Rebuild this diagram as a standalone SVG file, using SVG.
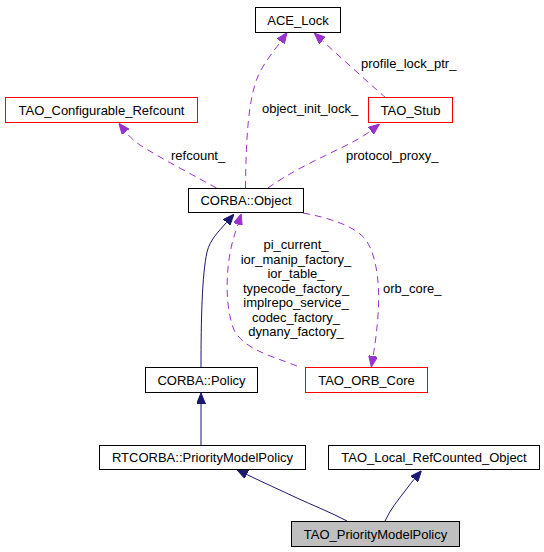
<svg xmlns="http://www.w3.org/2000/svg" width="544" height="552" viewBox="0 0 544 552">
<defs>
<style>
text{font-family:"Liberation Sans",Arial,sans-serif;font-size:13px;fill:#000}
.n{fill:#fff;stroke:#000;stroke-width:1}
.r{fill:#fff;stroke:#ff0000;stroke-width:1}
.g{fill:#bfbfbf;stroke:#000;stroke-width:1}
.c{text-anchor:middle}
.inh{fill:none;stroke:#191970;stroke-width:1;marker-end:url(#ah)}
.use{fill:none;stroke:#9a32cd;stroke-width:1;stroke-dasharray:7,5;marker-end:url(#au)}
</style>
<marker id="ah" viewBox="0 0 11 9" refX="0" refY="4.5" markerWidth="11" markerHeight="9" markerUnits="userSpaceOnUse" orient="auto">
<path d="M0,0 L11,4.5 L0,9 z" fill="#191970" stroke="#191970" stroke-width="1"/>
</marker>
<marker id="au" viewBox="0 0 11 9" refX="0" refY="4.5" markerWidth="11" markerHeight="9" markerUnits="userSpaceOnUse" orient="auto">
<path d="M0,0 L11,4.5 L0,9 z" fill="#9a32cd" stroke="#9a32cd" stroke-width="1"/>
</marker>
</defs>
<rect width="544" height="552" fill="#fff"/>
<g id="connectors">
<path class="use" d="M245.5,188 C246,140 248,100 258,76 C263,64 275,49.7 280.7,41.5"/>
<path class="use" d="M386,98 C370,84 340,57 322.4,40.6"/>
<path class="use" d="M268,188 C290,172 320,158 345,146 C355,141 364,136 370.8,130.8"/>
<path class="use" d="M216.5,188 C195,176 160,158 140,145 C133,140 129,136 125.7,131.9"/>
<path class="inh" d="M201,367 C201,320 202,275 207,252 C210,240 218,232 226.6,222.4"/>
<path class="use" d="M297,366 C272,356 245,350 234,330 C224,305 226,265 233,240 C235,233 236.5,229 237.9,224.4"/>
<path class="use" d="M303,213 C330,218 355,226 366,240 C378,258 380,290 378,315 C377,330 375,345 373.1,356.1"/>
<path class="inh" d="M201,445 L201,404"/>
<path class="inh" d="M347,521 C330,512 312,505 297,498 C280,490 262,482 246.8,474.5"/>
<path class="inh" d="M385,521 C390,510 398,500 405,491 C408,487 411,483 414.3,479.1"/>
<text x="262" y="113">object_init_lock_</text>
<text x="361" y="68">profile_lock_ptr_</text>
<text x="346" y="159.5">protocol_proxy_</text>
<text x="171" y="159.5">refcount_</text>
<text x="383" y="293">orb_core_</text>
<text class="c" x="296" y="249">pi_current_</text>
<text class="c" x="296" y="263.5">ior_manip_factory_</text>
<text class="c" x="296" y="278">ior_table_</text>
<text class="c" x="296" y="292.5">typecode_factory_</text>
<text class="c" x="296" y="307">implrepo_service_</text>
<text class="c" x="296" y="321.5">codec_factory_</text>
<text class="c" x="296" y="336">dynany_factory_</text>
</g>
<g id="ACE_Lock"><rect class="n" x="255.5" y="7.5" width="85" height="25"/><text class="c" x="298" y="24.5">ACE_Lock</text></g>
<g id="TAO_Configurable_Refcount"><rect class="r" x="5.5" y="97.5" width="192" height="25"/><text class="c" x="101.5" y="114.5">TAO_Configurable_Refcount</text></g>
<g id="TAO_Stub"><rect class="r" x="368.5" y="97.5" width="84" height="25"/><text class="c" x="410.5" y="114.5">TAO_Stub</text></g>
<g id="CORBA_Object"><rect class="n" x="188.5" y="188.5" width="115" height="24"/><text class="c" x="246" y="205">CORBA::Object</text></g>
<g id="CORBA_Policy"><rect class="n" x="145.5" y="367.5" width="112" height="25"/><text class="c" x="201.5" y="384.5">CORBA::Policy</text></g>
<g id="TAO_ORB_Core"><rect class="r" x="305.5" y="367.5" width="122" height="25"/><text class="c" x="366.5" y="384.5">TAO_ORB_Core</text></g>
<g id="RTCORBA_PriorityModelPolicy"><rect class="n" x="99.5" y="445.5" width="206" height="24"/><text class="c" x="202.5" y="461.5">RTCORBA::PriorityModelPolicy</text></g>
<g id="TAO_Local_RefCounted_Object"><rect class="n" x="328.5" y="445.5" width="211" height="24"/><text class="c" x="434" y="461.5">TAO_Local_RefCounted_Object</text></g>
<g id="TAO_PriorityModelPolicy"><rect class="g" x="291.5" y="521.5" width="168" height="25"/><text class="c" x="375.5" y="539">TAO_PriorityModelPolicy</text></g>
</svg>
